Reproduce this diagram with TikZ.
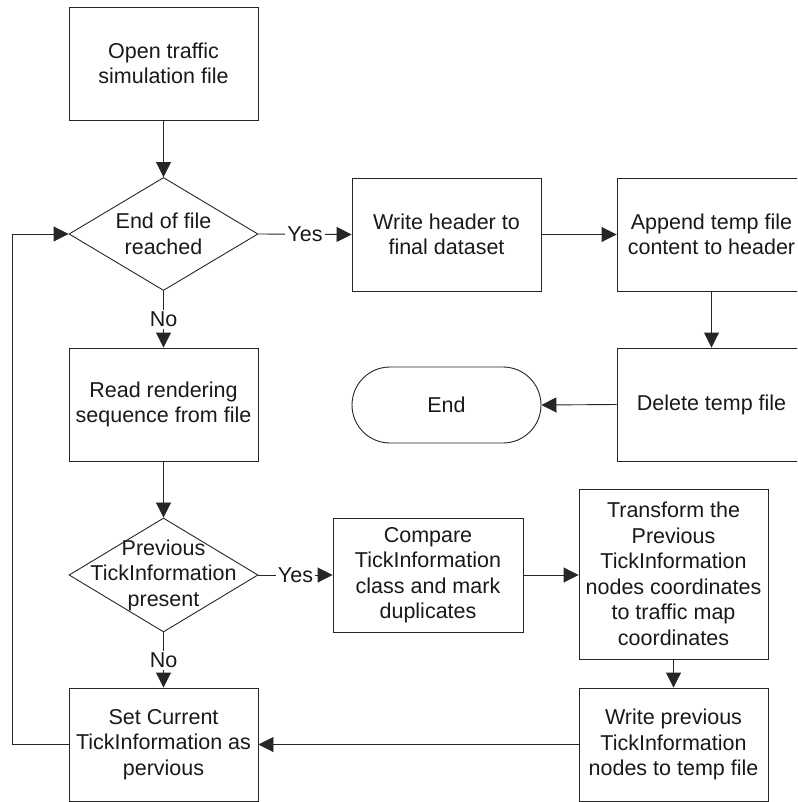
\documentclass[tikz,border=0pt]{standalone}
\usepackage{fontspec}
\setmainfont{Liberation Sans}
\usetikzlibrary{shapes.geometric,arrows.meta}

\begin{document}
\begin{tikzpicture}[x=1pt,y=-1pt,
  every node/.style={font=\fontsize{21.5}{25.5}\selectfont, text=black!90},
  line/.style={draw=black!85, line width=0.9pt},
  arrow/.style={line, -{Triangle[length=15pt,width=15pt]}},
  process/.style={line, rectangle, minimum width=189pt, minimum height=113pt,
    inner sep=0pt, align=center},
  decision/.style={line, diamond, minimum width=189pt, minimum height=113pt,
    inner sep=0pt},
  terminal/.style={line, rectangle, rounded corners=38pt, minimum width=189pt,
    minimum height=76pt, inner sep=0pt, align=center},
  tag/.style={fill=white, inner sep=2pt}]

  \useasboundingbox (0,0) rectangle (797,802);
  \clip (0,0) rectangle (797,802);

  % main column
  \node[process] (open) at (163.5,63.5) {Open traffic\\simulation file};
  \node[decision] (eof) at (163.5,234) {};
  \node[align=center] (eoftxt) at (eof) {End of file\\reached};
  \node[process] (read) at (163.5,404.5) {Read rendering\\sequence from file};
  \node[decision, minimum height=114pt] (prev) at (163.5,575) {};
  \node[align=center] (prevtxt) at (prev) {Previous\\TickInformation\\present};
  \node[process] (setcur) at (163.5,744.5) {Set Current\\TickInformation as\\pervious};

  % finishing branch
  \node[process] (hdr) at (446.5,234.5) {Write header to\\final dataset};
  \node[process] (app) at (711.5,234.5) {Append temp file\\content to header};
  \node[process] (del) at (711.5,404.5) {Delete temp file};
  \node[terminal] (end) at (446.5,405) {End};

  % duplicate handling branch
  \node[process, minimum width=190pt, minimum height=114pt] (cmp) at (428,575)
    {Compare\\TickInformation\\class and mark\\duplicates};
  \node[process, minimum height=170pt] (trn) at (673.5,574)
    {Transform the\\Previous\\TickInformation\\nodes coordinates\\to traffic map\\coordinates};
  \node[process] (wpr) at (673.5,744.5)
    {Write previous\\TickInformation\\nodes to temp file};

  % connectors
  \draw[arrow] (open) -- (eof);
  \draw[arrow] (eof.east) -- node[tag] {Yes} (hdr.west);
  \draw[arrow] (eof.south) -- node[tag] {No} (read.north);
  \draw[arrow] (hdr) -- (app);
  \draw[arrow] (app) -- (del);
  \draw[arrow] (del.west) -- (end.east);
  \draw[arrow] (read) -- (prev);
  \draw[arrow] (prev.east) -- node[tag] {Yes} (cmp.west);
  \draw[arrow] (prev.south) -- node[tag] {No} (setcur.north);
  \draw[arrow] (cmp.east) -- (cmp.east -| trn.west);
  \draw[arrow] (trn) -- (wpr);
  \draw[arrow] (wpr.west) -- (setcur.east);
  \coordinate (loopbot) at (12,744.5);
  \coordinate (looptop) at (12,234);
  \draw[arrow] (setcur.west) -- (loopbot) -- (looptop) -- (eof.west);
\end{tikzpicture}
\end{document}
